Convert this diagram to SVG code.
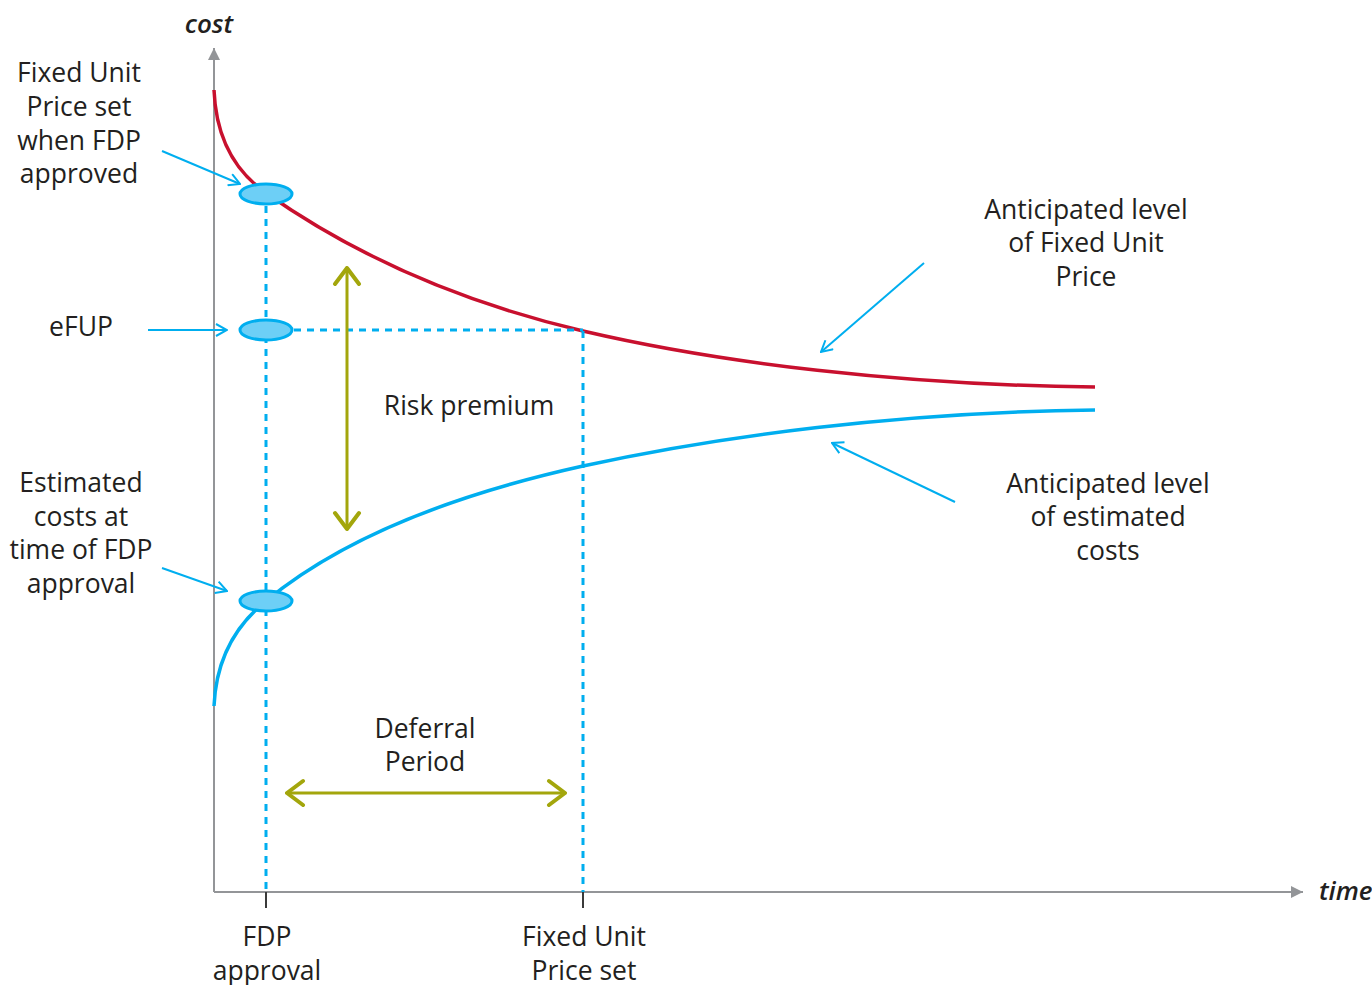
<svg xmlns="http://www.w3.org/2000/svg" width="1372" height="985" viewBox="0 0 1372 985">
  <defs>
    <style>
      .lbl { font-family: "Open Sans", "Liberation Sans", sans-serif; font-size: 26.5px; fill: #231f20; text-anchor: middle; }
      .axis-lbl { font-family: "Open Sans", "Liberation Sans", sans-serif; font-size: 26px; font-style: italic; font-weight: 600; fill: #231f20; }
      .axis { stroke: #939598; stroke-width: 2; fill: none; }
      .tick { stroke: #3a3a3a; stroke-width: 2; }
      .curve { fill: none; stroke-width: 3.5; }
      .guide { stroke: #00aeef; stroke-width: 3; stroke-dasharray: 7 6; fill: none; }
      .pointer { stroke: #00aeef; stroke-width: 2; fill: none; marker-end: url(#openBlue); }
      .span { stroke: #a3a60c; stroke-width: 3; fill: none; marker-start: url(#openGreen); marker-end: url(#openGreen); }
      .marker-dot { fill: #6dcff6; stroke: #00aeef; stroke-width: 3; }
    </style>
    <marker id="axisHead" viewBox="0 0 12 12" refX="12" refY="6" markerWidth="12" markerHeight="12" markerUnits="userSpaceOnUse" orient="auto">
      <path d="M0,0 L12,6 L0,12 Z" fill="#939598"/>
    </marker>
    <marker id="openBlue" viewBox="0 0 14 14" refX="13" refY="7" markerWidth="14" markerHeight="14" markerUnits="userSpaceOnUse" orient="auto">
      <path d="M2,1 L13,7 L2,13" fill="none" stroke="#00aeef" stroke-width="2"/>
    </marker>
    <marker id="openGreen" viewBox="0 0 22 30" refX="20" refY="15" markerWidth="22" markerHeight="30" markerUnits="userSpaceOnUse" orient="auto-start-reverse">
      <path d="M4,3 L20,15 L4,27" fill="none" stroke="#a3a60c" stroke-width="4" stroke-linecap="round" stroke-linejoin="round"/>
    </marker>
  </defs>

  <!-- axes -->
  <g id="axes">
    <line class="axis" x1="214" y1="892" x2="214" y2="48" marker-end="url(#axisHead)"/>
    <line class="axis" x1="214" y1="892" x2="1303" y2="892" marker-end="url(#axisHead)"/>
    <line class="tick" x1="266" y1="892" x2="266" y2="908"/>
    <line class="tick" x1="583" y1="892" x2="583" y2="908"/>
    <text class="axis-lbl" x="209" y="33" text-anchor="middle">cost</text>
    <text class="axis-lbl" x="1319" y="900">time</text>
  </g>

  <!-- curves -->
  <g id="fixed-unit-price-curve">
    <path class="curve" d="M214,90 C216,140 236,172 266,193 C330,238 430,295 583,331 C720,363 900,385 1095,387" stroke="#c8102e"/>
  </g>
  <g id="estimated-costs-curve">
    <path class="curve" d="M214,706 C216,660 236,625 266,601 C330,548 430,500 583,466 C720,436 900,412 1095,410" stroke="#00aeef"/>
  </g>

  <!-- connectors: guides, spans and pointers -->
  <g id="connectors">
    <line class="guide" x1="266" y1="206" x2="266" y2="892"/>
    <line class="guide" x1="583" y1="331" x2="583" y2="892"/>
    <line class="guide" x1="294" y1="330" x2="583" y2="330"/>
    <line class="span" x1="347" y1="268" x2="347" y2="529"/>
    <line class="span" x1="287" y1="793" x2="565" y2="793"/>
    <line class="pointer" x1="162" y1="151" x2="240" y2="184"/>
    <line class="pointer" x1="148" y1="330" x2="227" y2="330"/>
    <line class="pointer" x1="162" y1="568" x2="227" y2="591"/>
    <line class="pointer" x1="924" y1="263" x2="821" y2="352"/>
    <line class="pointer" x1="955" y1="502" x2="832" y2="443"/>
  </g>

  <!-- point markers -->
  <g id="fup-point"><ellipse class="marker-dot" cx="266" cy="194" rx="26" ry="10"/></g>
  <g id="efup-point"><ellipse class="marker-dot" cx="266" cy="330" rx="26" ry="10"/></g>
  <g id="estimate-point"><ellipse class="marker-dot" cx="266" cy="601" rx="26" ry="10"/></g>

  <!-- labels -->
  <g id="label-fup-set">
    <text class="lbl" x="79" y="82">Fixed Unit</text>
    <text class="lbl" x="79" y="116">Price set</text>
    <text class="lbl" x="79" y="150">when FDP</text>
    <text class="lbl" x="79" y="183">approved</text>
  </g>
  <g id="label-efup"><text class="lbl" x="81" y="336">eFUP</text></g>
  <g id="label-estimated">
    <text class="lbl" x="81" y="492">Estimated</text>
    <text class="lbl" x="81" y="526">costs at</text>
    <text class="lbl" x="81" y="559">time of FDP</text>
    <text class="lbl" x="81" y="593">approval</text>
  </g>
  <g id="label-risk"><text class="lbl" x="469" y="415">Risk premium</text></g>
  <g id="label-deferral">
    <text class="lbl" x="425" y="738">Deferral</text>
    <text class="lbl" x="425" y="771">Period</text>
  </g>
  <g id="label-fdp-approval">
    <text class="lbl" x="267" y="946">FDP</text>
    <text class="lbl" x="267" y="980">approval</text>
  </g>
  <g id="label-fup-time">
    <text class="lbl" x="584" y="946">Fixed Unit</text>
    <text class="lbl" x="584" y="980">Price set</text>
  </g>
  <g id="label-anticipated-fup">
    <text class="lbl" x="1086" y="219">Anticipated level</text>
    <text class="lbl" x="1086" y="252">of Fixed Unit</text>
    <text class="lbl" x="1086" y="286">Price</text>
  </g>
  <g id="label-anticipated-costs">
    <text class="lbl" x="1108" y="493">Anticipated level</text>
    <text class="lbl" x="1108" y="526">of estimated</text>
    <text class="lbl" x="1108" y="560">costs</text>
  </g>
</svg>
